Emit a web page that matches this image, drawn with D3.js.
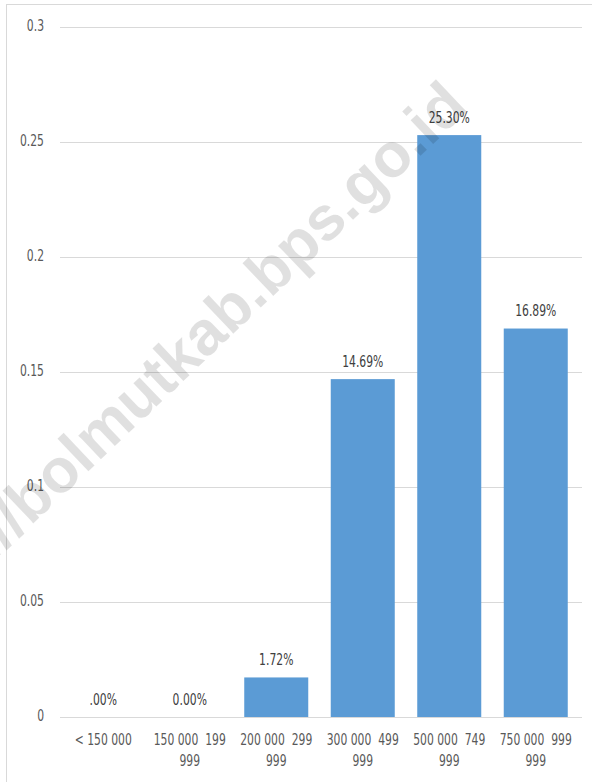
<!DOCTYPE html>
<html><head><meta charset="utf-8">
<script src="https://cdn.jsdelivr.net/npm/d3@7"></script>
<style>
html,body{margin:0;padding:0;background:#fff;}
svg{display:block;}
</style></head>
<body>
<svg id="chart" width="592" height="782"></svg>
<script>
const categories = ["< 150 000", "150 000  199|999", "200 000  299|999", "300 000  499|999", "500 000  749|999", "750 000  999|999"];
const values = [0, 0, 0.0172, 0.1469, 0.2530, 0.1689];
const dataLabels = [".00%", "0.00%", "1.72%", "14.69%", "25.30%", "16.89%"];
const yTicks = [0, 0.05, 0.1, 0.15, 0.2, 0.25, 0.3];
const yTickLabels = ["0", "0.05", "0.1", "0.15", "0.2", "0.25", "0.3"];

const svg = d3.select("#chart");
const font = "'DejaVu Sans Condensed','Liberation Sans Narrow',sans-serif";
const SX = 0.8; // horizontal condensing to mimic the narrow original font

// frame
svg.append("rect").attr("x", 6.5).attr("y", 4.5).attr("width", 600).attr("height", 800)
  .attr("fill", "none").attr("stroke", "#d9d9d9").attr("stroke-width", 1);

const x = d3.scaleBand().domain(categories).range([60, 579]).paddingInner(0.26).paddingOuter(0.13);
const y = d3.scaleLinear().domain([0, 0.3]).range([717, 27]);

// gridlines
svg.append("g").selectAll("line").data(yTicks).join("line")
  .attr("x1", 60).attr("x2", 582)
  .attr("y1", d => Math.round(y(d)) + 0.5).attr("y2", d => Math.round(y(d)) + 0.5)
  .attr("stroke", "#d9d9d9").attr("stroke-width", 1);

// y labels
svg.append("g").selectAll("text").data(yTicks).join("text")
  .attr("transform", d => `translate(44,${y(d) - 1}) scale(${SX},1)`)
  .attr("dy", "0.35em")
  .attr("text-anchor", "end").attr("font-family", font).attr("font-size", 15)
  .attr("fill", "#595959").text((d, i) => yTickLabels[i]);

// bars
svg.append("g").selectAll("rect").data(values).join("rect")
  .attr("x", (d, i) => x(categories[i])).attr("width", x.bandwidth())
  .attr("y", d => y(d)).attr("height", d => y(0) - y(d))
  .attr("fill", "#5b9bd5");

// data labels
svg.append("g").selectAll("text").data(values).join("text")
  .attr("transform", (d, i) => `translate(${x(categories[i]) + x.bandwidth() / 2},${y(d) - 12.5}) scale(${SX},1)`)
  .attr("text-anchor", "middle")
  .attr("font-family", font).attr("font-size", 15).attr("fill", "#404040")
  .text((d, i) => dataLabels[i]);

// x labels
const xl = svg.append("g").selectAll("text").data(categories).join("text")
  .attr("transform", d => `translate(${x(d) + x.bandwidth() / 2},0) scale(${SX},1)`)
  .attr("text-anchor", "middle").attr("font-family", font).attr("font-size", 15)
  .attr("fill", "#595959").style("white-space", "pre");
xl.each(function(d) {
  const parts = d.split("|");
  parts.forEach((p, j) => {
    d3.select(this).append("tspan").attr("x", 0).attr("y", 745 + j * 21.5).text(p);
  });
});

// watermark
svg.append("text")
  .attr("transform", "translate(470,109) rotate(-43.5)")
  .attr("text-anchor", "end")
  .attr("font-family", "'Liberation Sans',Arial,sans-serif").attr("font-weight", "bold")
  .attr("font-size", 62).attr("fill", "#000").attr("fill-opacity", 0.12)
  .text("https://bolmutkab.bps.go.id");
</script>
</body></html>
